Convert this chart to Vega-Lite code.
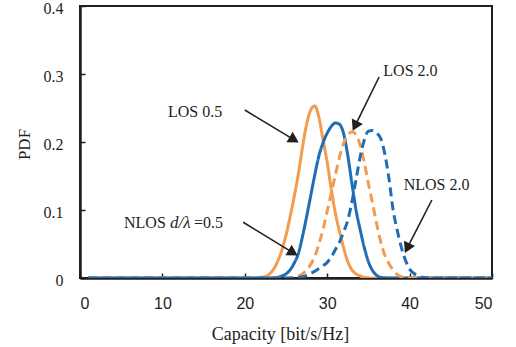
{
  "$schema": "https://vega.github.io/schema/vega-lite/v6.json",
  "width": 412,
  "height": 272,
  "autosize": {"type": "none"},
  "padding": {"left": 80, "top": 6, "right": 24, "bottom": 69},
  "background": "white",
  "config": {
    "view": {"stroke": "#231f20", "strokeWidth": 2},
    "axis": {"grid": false, "domainColor": "#231f20", "domainWidth": 2.5, "tickColor": "#231f20", "tickWidth": 1.5, "labelColor": "#231f20", "titleColor": "#231f20", "titleFontWeight": "normal"}
  },
  "datasets": {
    "curves": [
      {"s":"LOS 0.5","c":1,"p":0},{"s":"LOS 0.5","c":21,"p":0},{"s":"LOS 0.5","c":22,"p":0.001},{"s":"LOS 0.5","c":22.5,"p":0.002},{"s":"LOS 0.5","c":23,"p":0.006},{"s":"LOS 0.5","c":23.5,"p":0.013},{"s":"LOS 0.5","c":24,"p":0.025},{"s":"LOS 0.5","c":24.5,"p":0.041},{"s":"LOS 0.5","c":25,"p":0.063},{"s":"LOS 0.5","c":25.5,"p":0.09},{"s":"LOS 0.5","c":26,"p":0.12},{"s":"LOS 0.5","c":26.5,"p":0.153},{"s":"LOS 0.5","c":27,"p":0.192},{"s":"LOS 0.5","c":27.5,"p":0.226},{"s":"LOS 0.5","c":28,"p":0.247},{"s":"LOS 0.5","c":28.5,"p":0.253},{"s":"LOS 0.5","c":29,"p":0.236},{"s":"LOS 0.5","c":29.5,"p":0.203},{"s":"LOS 0.5","c":30,"p":0.17},{"s":"LOS 0.5","c":30.5,"p":0.13},{"s":"LOS 0.5","c":31,"p":0.095},{"s":"LOS 0.5","c":31.5,"p":0.068},{"s":"LOS 0.5","c":32,"p":0.044},{"s":"LOS 0.5","c":32.5,"p":0.024},{"s":"LOS 0.5","c":33,"p":0.012},{"s":"LOS 0.5","c":33.5,"p":0.006},{"s":"LOS 0.5","c":34,"p":0.003},{"s":"LOS 0.5","c":34.5,"p":0.001},{"s":"LOS 0.5","c":35.5,"p":0},{"s":"LOS 0.5","c":50,"p":0},
      {"s":"NLOS 0.5","c":1,"p":0},{"s":"NLOS 0.5","c":23,"p":0},{"s":"NLOS 0.5","c":24,"p":0.001},{"s":"NLOS 0.5","c":24.5,"p":0.003},{"s":"NLOS 0.5","c":25,"p":0.006},{"s":"NLOS 0.5","c":25.5,"p":0.012},{"s":"NLOS 0.5","c":26,"p":0.022},{"s":"NLOS 0.5","c":26.5,"p":0.036},{"s":"NLOS 0.5","c":27,"p":0.061},{"s":"NLOS 0.5","c":27.5,"p":0.09},{"s":"NLOS 0.5","c":28,"p":0.121},{"s":"NLOS 0.5","c":28.5,"p":0.152},{"s":"NLOS 0.5","c":29,"p":0.18},{"s":"NLOS 0.5","c":29.5,"p":0.199},{"s":"NLOS 0.5","c":30,"p":0.213},{"s":"NLOS 0.5","c":30.5,"p":0.223},{"s":"NLOS 0.5","c":31,"p":0.228},{"s":"NLOS 0.5","c":31.5,"p":0.226},{"s":"NLOS 0.5","c":32,"p":0.212},{"s":"NLOS 0.5","c":32.5,"p":0.18},{"s":"NLOS 0.5","c":33,"p":0.139},{"s":"NLOS 0.5","c":33.5,"p":0.1},{"s":"NLOS 0.5","c":34,"p":0.071},{"s":"NLOS 0.5","c":34.5,"p":0.045},{"s":"NLOS 0.5","c":35,"p":0.024},{"s":"NLOS 0.5","c":35.5,"p":0.011},{"s":"NLOS 0.5","c":36,"p":0.004},{"s":"NLOS 0.5","c":36.5,"p":0.001},{"s":"NLOS 0.5","c":37.5,"p":0},{"s":"NLOS 0.5","c":50,"p":0},
      {"s":"LOS 2.0","c":1,"p":0},{"s":"LOS 2.0","c":25,"p":0},{"s":"LOS 2.0","c":26,"p":0.001},{"s":"LOS 2.0","c":26.5,"p":0.003},{"s":"LOS 2.0","c":27,"p":0.006},{"s":"LOS 2.0","c":27.5,"p":0.012},{"s":"LOS 2.0","c":28,"p":0.02},{"s":"LOS 2.0","c":28.5,"p":0.032},{"s":"LOS 2.0","c":29,"p":0.05},{"s":"LOS 2.0","c":29.5,"p":0.072},{"s":"LOS 2.0","c":30,"p":0.098},{"s":"LOS 2.0","c":30.5,"p":0.125},{"s":"LOS 2.0","c":31,"p":0.152},{"s":"LOS 2.0","c":31.5,"p":0.178},{"s":"LOS 2.0","c":32,"p":0.198},{"s":"LOS 2.0","c":32.5,"p":0.21},{"s":"LOS 2.0","c":33,"p":0.215},{"s":"LOS 2.0","c":33.5,"p":0.211},{"s":"LOS 2.0","c":34,"p":0.195},{"s":"LOS 2.0","c":34.5,"p":0.17},{"s":"LOS 2.0","c":35,"p":0.139},{"s":"LOS 2.0","c":35.5,"p":0.11},{"s":"LOS 2.0","c":36,"p":0.08},{"s":"LOS 2.0","c":36.5,"p":0.053},{"s":"LOS 2.0","c":37,"p":0.033},{"s":"LOS 2.0","c":37.5,"p":0.021},{"s":"LOS 2.0","c":38,"p":0.012},{"s":"LOS 2.0","c":38.5,"p":0.005},{"s":"LOS 2.0","c":39,"p":0.002},{"s":"LOS 2.0","c":39.5,"p":0},{"s":"LOS 2.0","c":50,"p":0},
      {"s":"NLOS 2.0","c":1,"p":0},{"s":"NLOS 2.0","c":26,"p":0},{"s":"NLOS 2.0","c":27,"p":0.002},{"s":"NLOS 2.0","c":27.5,"p":0.004},{"s":"NLOS 2.0","c":28,"p":0.007},{"s":"NLOS 2.0","c":28.5,"p":0.01},{"s":"NLOS 2.0","c":29,"p":0.014},{"s":"NLOS 2.0","c":29.5,"p":0.018},{"s":"NLOS 2.0","c":30,"p":0.023},{"s":"NLOS 2.0","c":30.5,"p":0.031},{"s":"NLOS 2.0","c":31,"p":0.042},{"s":"NLOS 2.0","c":31.5,"p":0.053},{"s":"NLOS 2.0","c":32,"p":0.068},{"s":"NLOS 2.0","c":32.5,"p":0.085},{"s":"NLOS 2.0","c":33,"p":0.112},{"s":"NLOS 2.0","c":33.5,"p":0.145},{"s":"NLOS 2.0","c":34,"p":0.178},{"s":"NLOS 2.0","c":34.5,"p":0.203},{"s":"NLOS 2.0","c":35,"p":0.216},{"s":"NLOS 2.0","c":35.5,"p":0.217},{"s":"NLOS 2.0","c":36,"p":0.213},{"s":"NLOS 2.0","c":36.5,"p":0.205},{"s":"NLOS 2.0","c":37,"p":0.182},{"s":"NLOS 2.0","c":37.5,"p":0.146},{"s":"NLOS 2.0","c":38,"p":0.1},{"s":"NLOS 2.0","c":38.5,"p":0.07},{"s":"NLOS 2.0","c":39,"p":0.045},{"s":"NLOS 2.0","c":39.5,"p":0.026},{"s":"NLOS 2.0","c":40,"p":0.013},{"s":"NLOS 2.0","c":40.5,"p":0.007},{"s":"NLOS 2.0","c":41,"p":0.003},{"s":"NLOS 2.0","c":41.5,"p":0.001},{"s":"NLOS 2.0","c":42.5,"p":0},{"s":"NLOS 2.0","c":50,"p":0}
    ],
    "arrows": [
      {"a":"LOS 0.5","x":20.0,"y":0.247,"x2":25.8,"y2":0.2045},
      {"a":"LOS 2.0","x":36.3,"y":0.2956,"x2":33.47,"y2":0.2258},
      {"a":"NLOS 2.0","x":42.7,"y":0.1147,"x2":39.8,"y2":0.0462},
      {"a":"NLOS 0.5","x":19.8,"y":0.082,"x2":25.68,"y2":0.0385}
    ],
    "headsRight": [
      {"a":"LOS 0.5","x":25.8,"y":0.2045},
      {"a":"NLOS 0.5","x":25.68,"y":0.0385}
    ],
    "headsLeft": [
      {"a":"LOS 2.0","x":33.47,"y":0.2258},
      {"a":"NLOS 2.0","x":39.8,"y":0.0462}
    ],
    "labelsCenter": [
      {"t":"LOS 0.5","x":13.96,"y":0.244},
      {"t":"LOS 2.0","x":40.1,"y":0.304},
      {"t":"NLOS 2.0","x":43.27,"y":0.1368}
    ],
    "labelsLeft": [
      {"t":"NLOS","x":5.34,"y":0.081},
      {"t":"=0.5","x":13.83,"y":0.081}
    ],
    "labelsItalic": [{"t":"d/λ","x":10.92,"y":0.081}]
  },
  "layer": [
    {
      "data": {"name": "curves"},
      "mark": {"type": "line", "strokeWidth": 3, "interpolate": "monotone", "clip": true},
      "encoding": {
        "x": {"field": "c", "type": "quantitative", "scale": {"domain": [0, 50], "nice": false},
          "axis": {"values": [0,10,20,30,40,50], "tickSize": -5, "labelPadding": 22, "labelFont": "Liberation Sans", "labelFontSize": 16, "title": "Capacity [bit/s/Hz]", "titleFont": "Liberation Serif", "titleFontSize": 18, "titleX": 200, "titleY": 56, "titleBaseline": "middle", "titleAlign": "center", "titleAnchor": null}},
        "y": {"field": "p", "type": "quantitative", "scale": {"domain": [0, 0.4], "nice": false},
          "axis": {"values": [0,0.1,0.2,0.3,0.4], "tickSize": -5, "labelPadding": 22, "labelOffset": 2, "labelFont": "Liberation Serif", "labelFontSize": 16, "labelExpr": "datum.value == 0 ? '0' : format(datum.value, '.1f')", "title": "PDF", "titleFont": "Liberation Serif", "titleFontSize": 17, "titleX": -56, "titleY": 138, "titleAngle": 270, "titleBaseline": "middle", "titleAlign": "center"}},
        "color": {"field": "s", "type": "nominal", "legend": null, "sort": null,
          "scale": {"domain": ["LOS 0.5","NLOS 0.5","LOS 2.0","NLOS 2.0"], "range": ["#F39B4E","#1F6EB5","#F39B4E","#1F6EB5"]}},
        "strokeDash": {"field": "s", "type": "nominal", "legend": null,
          "scale": {"domain": ["LOS 0.5","NLOS 0.5","LOS 2.0","NLOS 2.0"], "range": [[1,0],[1,0],[9,5],[9,5]]}}
      }
    },
    {
      "data": {"name": "arrows"},
      "mark": {"type": "rule", "color": "#231f20", "strokeWidth": 1.6},
      "encoding": {
        "x": {"field": "x", "type": "quantitative"},
        "y": {"field": "y", "type": "quantitative"},
        "x2": {"field": "x2"},
        "y2": {"field": "y2"}
      }
    },
    {
      "data": {"name": "headsRight"},
      "mark": {"type": "point", "shape": "triangle", "filled": true, "color": "#231f20", "size": 150, "angle": 121, "opacity": 1},
      "encoding": {"x": {"field": "x", "type": "quantitative"}, "y": {"field": "y", "type": "quantitative"}}
    },
    {
      "data": {"name": "headsLeft"},
      "mark": {"type": "point", "shape": "triangle", "filled": true, "color": "#231f20", "size": 150, "angle": 206, "opacity": 1},
      "encoding": {"x": {"field": "x", "type": "quantitative"}, "y": {"field": "y", "type": "quantitative"}}
    },
    {
      "data": {"name": "labelsCenter"},
      "mark": {"type": "text", "font": "Liberation Serif", "fontSize": 16, "color": "#231f20", "align": "center", "baseline": "middle"},
      "encoding": {"x": {"field": "x", "type": "quantitative"}, "y": {"field": "y", "type": "quantitative"}, "text": {"field": "t"}}
    },
    {
      "data": {"name": "labelsLeft"},
      "mark": {"type": "text", "font": "Liberation Serif", "fontSize": 16, "color": "#231f20", "align": "left", "baseline": "middle"},
      "encoding": {"x": {"field": "x", "type": "quantitative"}, "y": {"field": "y", "type": "quantitative"}, "text": {"field": "t"}}
    },
    {
      "data": {"name": "labelsItalic"},
      "mark": {"type": "text", "font": "Liberation Serif", "fontSize": 17, "fontStyle": "italic", "color": "#231f20", "align": "left", "baseline": "middle"},
      "encoding": {"x": {"field": "x", "type": "quantitative"}, "y": {"field": "y", "type": "quantitative"}, "text": {"field": "t"}}
    }
  ]
}
